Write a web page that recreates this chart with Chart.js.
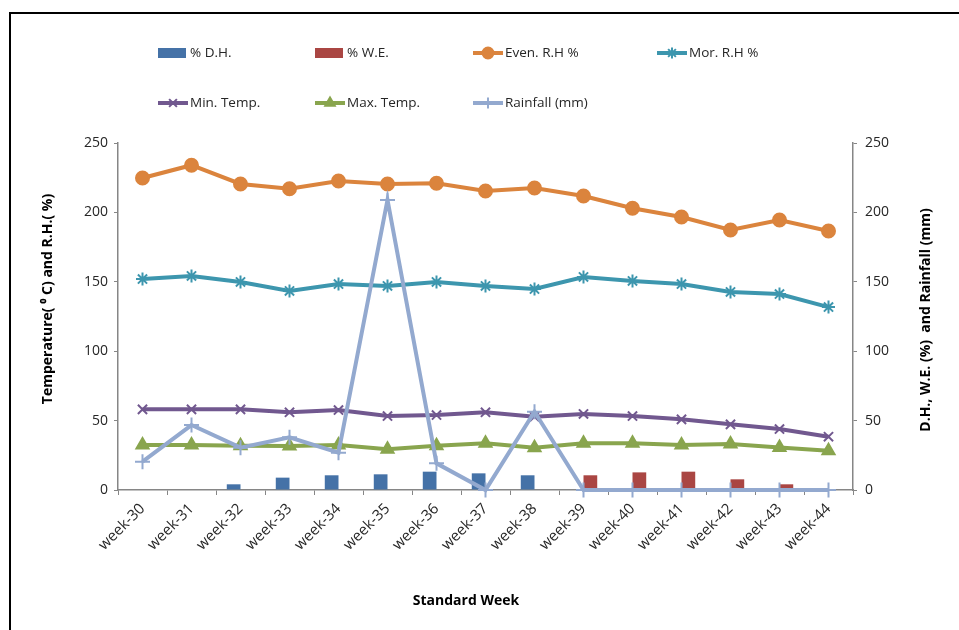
<!DOCTYPE html>
<html>
<head>
<meta charset="utf-8">
<script src="https://cdn.jsdelivr.net/npm/chart.js@4.4.1/dist/chart.umd.min.js"></script>
<style>
html, body { margin: 0; padding: 0; background: #fff; overflow: hidden; }
#wrap { position: relative; width: 959px; height: 630px; }
#frame { position: absolute; left: 9px; top: 12px; width: 960px; height: 630px; border-left: 2px solid #000; border-top: 2px solid #000; box-sizing: border-box; }
canvas { position: absolute; left: 0; top: 0; }
</style>
</head>
<body>
<div id="wrap">
  <div id="frame"></div>
  <canvas id="chart" width="959" height="630"></canvas>
</div>
<script>
// data
const weeks = ['week-30', 'week-31', 'week-32', 'week-33', 'week-34', 'week-35', 'week-36', 'week-37',
               'week-38', 'week-39', 'week-40', 'week-41', 'week-42', 'week-43', 'week-44'];
const dhPct    = [0, 0, 4.1, 8.9, 10.6, 11.3, 13.2, 12, 10.6, 0, 0, 0, 0, 0, 0];
const wePct    = [0, 0, 0, 0, 0, 0, 0, 0, 0, 10.6, 12.7, 13.2, 7.7, 4.1, 0];
const evenRH   = [224.8, 234, 220.5, 217, 222.6, 220.5, 221, 215.4, 217.6, 211.8, 203, 196.7, 187.3, 194.5, 186.6];
const morRH    = [152, 154.2, 149.9, 143.4, 148.4, 147, 149.9, 147, 144.8, 153.5, 150.6, 148.4, 142.7, 141.2, 131.8];
const minTemp  = [58.1, 58.1, 58.1, 56, 57.6, 53.3, 54, 56, 52.8, 54.8, 53.3, 50.9, 47.3, 43.9, 38.4];
const maxTemp  = [32.4, 32.4, 31.9, 31.7, 32.4, 29.3, 31.9, 33.6, 30.5, 33.6, 33.6, 32.4, 33.1, 30.7, 28.3];
const rainfall = [20.4, 46.8, 30.5, 38, 26.9, 209, 19.2, 0, 56.4, 0, 0, 0, 0, 0, 0];

const axisMin = 0, axisMax = 250, axisStep = 50;

const FONT = "'Open Sans', sans-serif";
const axisGray = '#868686';
const textColor = '#262626';

const colors = {
    dh: '#4572A7', we: '#AA4643', even: '#DB843D', mor: '#3D96AE',
    min: '#71588F', max: '#89A54E', rain: '#93A9CF'
};

function lineSet(label, data, color, style, radius, axis, order) {
    return {
        type: 'line', label: label, data: data, yAxisID: axis, order: order,
        borderColor: color, backgroundColor: color, borderWidth: 4,
        pointStyle: style, pointRadius: radius, pointHoverRadius: radius,
        pointBackgroundColor: color, pointBorderColor: color, pointBorderWidth: 2,
        tension: 0, clip: false
    };
}

// legend layout (Excel-style two rows)
const legendItems = [
    { label: '% D.H.',         color: colors.dh,   kind: 'box',      x: 158, y: 53 },
    { label: '% W.E.',         color: colors.we,   kind: 'box',      x: 315, y: 53 },
    { label: 'Even. R.H %',    color: colors.even, kind: 'circle',   x: 473, y: 53 },
    { label: 'Mor. R.H %',     color: colors.mor,  kind: 'star',     x: 657, y: 53 },
    { label: 'Min. Temp.',     color: colors.min,  kind: 'crossRot', x: 158, y: 103 },
    { label: 'Max. Temp.',     color: colors.max,  kind: 'triangle', x: 315, y: 103 },
    { label: 'Rainfall (mm)',  color: colors.rain, kind: 'cross',    x: 473, y: 103 }
];

const extrasPlugin = {
    id: 'extras',
    afterDraw(chart) {
        const ctx = chart.ctx;
        ctx.save();
        // legend
        ctx.font = '13.5px ' + FONT;
        ctx.textBaseline = 'middle';
        ctx.textAlign = 'left';
        legendItems.forEach(it => {
            ctx.fillStyle = it.color;
            ctx.strokeStyle = it.color;
            if (it.kind === 'box') {
                ctx.fillRect(it.x, it.y - 5, 28, 10);
            } else {
                ctx.lineWidth = 4;
                ctx.beginPath();
                ctx.moveTo(it.x, it.y);
                ctx.lineTo(it.x + 30, it.y);
                ctx.stroke();
                ctx.lineWidth = 2;
                Chart.helpers.drawPoint(ctx, { pointStyle: it.kind, radius: 5.5, rotation: 0, borderWidth: 2 }, it.x + 15, it.y);
            }
            ctx.fillStyle = textColor;
            ctx.fillText(it.label, it.x + 32, it.y);
        });
        // axis titles
        ctx.font = 'bold 14px ' + FONT;
        ctx.fillStyle = '#000';
        ctx.textAlign = 'center';
        ctx.fillText('Standard Week', 466, 601);
        ctx.save();
        ctx.translate(48, 299);
        ctx.rotate(-Math.PI / 2);
        ctx.fillText('Temperature( \u2070 C) and R.H.( %)', 0, 0);
        ctx.restore();
        ctx.save();
        ctx.translate(926, 320);
        ctx.rotate(-Math.PI / 2);
        ctx.fillText('D.H., W.E. (%)  and Rainfall (mm)', 0, 0);
        ctx.restore();
        ctx.restore();
    }
};

const ctx = document.getElementById('chart').getContext('2d');
const chart = new Chart(ctx, {
    type: 'bar',
    data: {
        labels: weeks,
        datasets: [
            { type: 'bar', label: '% D.H.', data: dhPct, yAxisID: 'y1', order: 8,
              backgroundColor: colors.dh, borderWidth: 0, categoryPercentage: 0.56, barPercentage: 1 },
            { type: 'bar', label: '% W.E.', data: wePct, yAxisID: 'y1', order: 9,
              backgroundColor: colors.we, borderWidth: 0, categoryPercentage: 0.56, barPercentage: 1 },
            lineSet('Even. R.H %', evenRH, colors.even, 'circle', 6.5, 'y', 7),
            lineSet('Mor. R.H %', morRH, colors.mor, 'star', 6.5, 'y', 6),
            lineSet('Min. Temp.', minTemp, colors.min, 'crossRot', 6.5, 'y', 5),
            lineSet('Max. Temp.', maxTemp, colors.max, 'triangle', 7, 'y', 4),
            lineSet('Rainfall (mm)', rainfall, colors.rain, 'cross', 7.5, 'y1', 3)
        ]
    },
    options: {
        responsive: false,
        animation: false,
        layout: { padding: { left: 10, right: 10, top: 143, bottom: 0 } },
        plugins: {
            legend: { display: false },
            tooltip: { enabled: false }
        },
        scales: {
            x: {
                offset: true,
                grid: { display: true, drawOnChartArea: false, offset: true, tickLength: 5, color: axisGray },
                border: { color: axisGray, width: 1.5 },
                ticks: {
                    autoSkip: false, minRotation: 45, maxRotation: 45, padding: 5,
                    color: textColor, font: { family: FONT, size: 15 }
                },
                afterFit: s => { s.height = 140; }
            },
            y: {
                position: 'left', min: axisMin, max: axisMax,
                grid: { drawOnChartArea: false, tickLength: 4, color: axisGray },
                border: { color: axisGray, width: 1.5 },
                ticks: { stepSize: axisStep, padding: 6, color: textColor, font: { family: FONT, size: 14 } },
                afterFit: s => { s.width = 108; }
            },
            y1: {
                position: 'right', min: axisMin, max: axisMax,
                grid: { drawOnChartArea: false, tickLength: 4, color: axisGray },
                border: { color: axisGray, width: 1.5 },
                ticks: { stepSize: axisStep, padding: 8, color: textColor, font: { family: FONT, size: 14 } },
                afterFit: s => { s.width = 96; }
            }
        }
    },
    plugins: [extrasPlugin]
});
</script>
</body>
</html>
